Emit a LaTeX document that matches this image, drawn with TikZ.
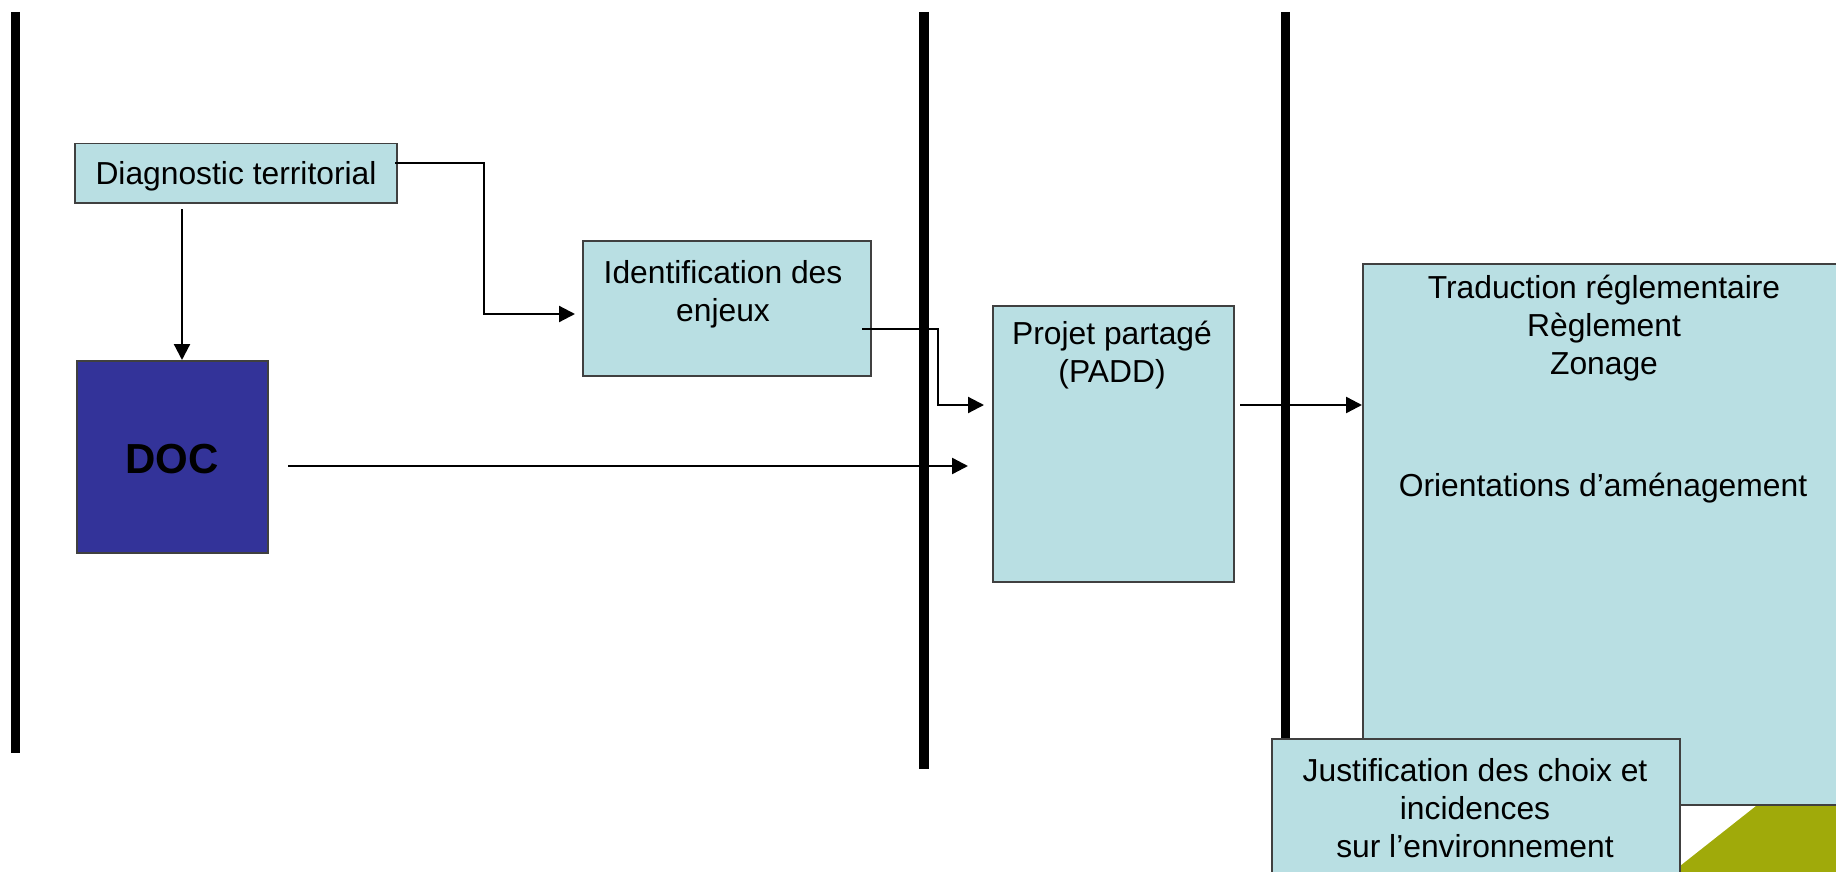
\documentclass[tikz,border=0pt]{standalone}
\usepackage{fontspec}
\setmainfont{Liberation Sans}
\usetikzlibrary{arrows.meta}
\definecolor{paleblue}{HTML}{B9DFE3}
\definecolor{darkblue}{HTML}{333399}
\definecolor{olivegreen}{HTML}{A0AA0A}
\tikzset{
  panel/.style={draw=black!75,line width=1.5pt,fill=paleblue,inner sep=0pt,anchor=north west},
  label text/.style={align=center,inner sep=0pt,font=\fontsize{31.8pt}{38pt}\selectfont},
  bar/.style={line width=9.6pt,black},
  link/.style={line width=2.4pt,-{Triangle[length=16pt,width=16pt,sep=0pt]}},
  thinlink/.style={line width=2.2pt,-{Triangle[length=16pt,width=16pt,sep=0pt]}}
}
\begin{document}
\begin{tikzpicture}[x=1pt,y=-1pt]
  \useasboundingbox (0,0) rectangle (1836,872);
  \clip (0,0) rectangle (1836,872);
  % separators
  \coordinate (bara top) at (15.5,12);    \coordinate (bara end) at (15.5,753);
  \coordinate (barb top) at (924,12);     \coordinate (barb end) at (924,769);
  \coordinate (barc top) at (1285.5,12);  \coordinate (barc end) at (1285.5,745);
  \draw[bar] (bara top) -- (bara end);
  \draw[bar] (barb top) -- (barb end);
  \draw[bar] (barc top) -- (barc end);
  % corner of the slide background
  \fill[olivegreen] (1680,866) -- (1756,806) -- (1836,806) -- (1836,872) -- (1680,872) -- cycle;
  % boxes
  \node (diag) at (74,143) [panel,minimum width=322pt,minimum height=59pt] {};
  \node (doc) at (76,360) [panel,fill=darkblue,minimum width=191pt,minimum height=192pt] {};
  \node (ident) at (582,240) [panel,minimum width=288pt,minimum height=135pt] {};
  \node (padd) at (992,305) [panel,minimum width=241pt,minimum height=276pt] {};
  \node (trad) at (1362,263) [panel,minimum width=520pt,minimum height=541pt] {};
  % texts
  \node (diagtext) at (236,176) [label text] {Diagnostic territorial};
  \node (doctext) at (172,459) [label text,font=\fontsize{42pt}{38pt}\selectfont\bfseries] {DOC};
  \node (identtext) at (723,294) [label text] {Identification des\\enjeux};
  \node (paddtext) at (1112,355) [label text] {Projet partagé\\(PADD)};
  \node (tradtext) at (1604,328) [label text] {Traduction réglementaire\\Règlement\\Zonage};
  \node (orienttext) at (1603,488) [label text] {Orientations d’aménagement};
  % connectors
  \coordinate (diagout) at (395,163);
  \coordinate (diagdown) at (182,209);
  \coordinate (diagelbow) at (484,314);
  \coordinate (identout) at (862,329);
  \coordinate (identelbow) at (938,405);
  \coordinate (docout) at (288,466);
  \coordinate (paddout) at (1240,405);
  \draw[thinlink] (diagdown) -- (diagdown |- doc.north);
  \draw[thinlink] (diagout) -| (diagelbow) -- ([xshift=-7pt]ident.west |- diagelbow);
  \draw[thinlink] (identout) -| (identelbow) -- ([xshift=-8pt]padd.west |- identelbow);
  \draw[link] (docout) -- ([xshift=-24pt]padd.west |- docout);
  \draw[link] (paddout) -- (trad.west |- paddout);
  % drawn last, it lies over the bar and the large box
  \node (just) at (1271,738) [panel,minimum width=408pt,minimum height=150pt] {};
  \node (justtext) at (1475,808) [label text] {Justification des choix et\\incidences\\sur l’environnement};
\end{tikzpicture}
\end{document}
